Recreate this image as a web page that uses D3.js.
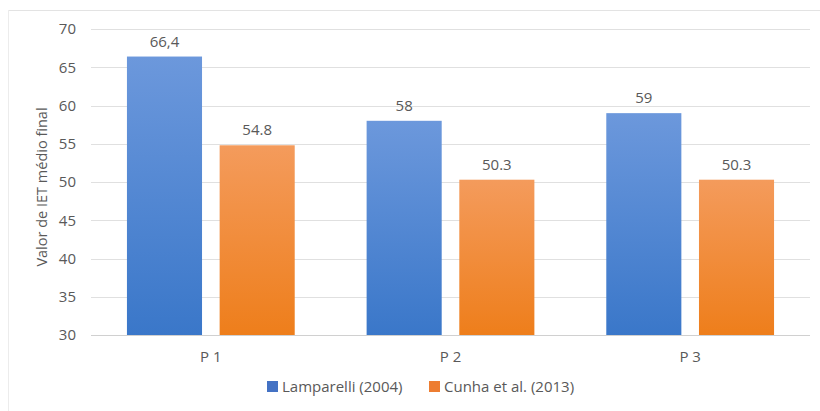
<!DOCTYPE html>
<html>
<head>
<meta charset="utf-8">
<script src="https://cdn.jsdelivr.net/npm/d3@7"></script>
<style>
  body { margin: 0; background: #fff; }
  text { font-family: "Open Sans", "Liberation Sans", sans-serif; fill: #595959; }
</style>
</head>
<body>
<script>
var w = 820;
var h = 411;

// chart data
var categories = ["P 1", "P 2", "P 3"];
var series = ["Lamparelli (2004)", "Cunha et al. (2013)"];
var lamparelli = [66.4, 58, 59];
var cunha = [54.8, 50.3, 50.3];
var lamparelliLabels = ["66,4", "58", "59"];
var cunhaLabels = ["54.8", "50.3", "50.3"];
var yTicks = [30, 35, 40, 45, 50, 55, 60, 65, 70];

var rows = categories.map(function(c, i) {
  return { cat: c, vals: [
    { key: series[0], v: lamparelli[i], label: lamparelliLabels[i] },
    { key: series[1], v: cunha[i], label: cunhaLabels[i] }
  ]};
});

var svg = d3.select("body").append("svg")
  .attr("width", w)
  .attr("height", h);

// gradients
var defs = svg.append("defs");
var gradColors = [["#6c98dc", "#3a77c9"], ["#f49b5c", "#ee7e1b"]];
gradColors.forEach(function(c, i) {
  var g = defs.append("linearGradient").attr("id", "grad" + i)
    .attr("x1", 0).attr("y1", 0).attr("x2", 0).attr("y2", 1);
  g.append("stop").attr("offset", "0%").attr("stop-color", c[0]);
  g.append("stop").attr("offset", "100%").attr("stop-color", c[1]);
});
var legendColors = ["#4472c4", "#ed7d31"];

// outer frame lines
svg.append("line").attr("x1", 8).attr("x2", w).attr("y1", 10.5).attr("y2", 10.5)
  .attr("stroke", "#e3e3e3");
svg.append("line").attr("x1", 8.5).attr("x2", 8.5).attr("y1", 10).attr("y2", h)
  .attr("stroke", "#ececec");

var plotLeft = 91, plotRight = 810, plotTop = 29, plotBottom = 335;

var x0 = d3.scaleBand().domain(categories).range([plotLeft, plotRight]).paddingInner(0.3).paddingOuter(0.15);
var x1 = d3.scaleBand().domain(series).range([0, x0.bandwidth()]).paddingInner(0.19);
var y = d3.scaleLinear().domain([30, 70]).range([plotBottom, plotTop]);

// gridlines
svg.append("g")
  .selectAll("line").data(yTicks).enter().append("line")
  .attr("x1", plotLeft).attr("x2", plotRight)
  .attr("y1", function(d) { return Math.round(y(d)) + 0.5; })
  .attr("y2", function(d) { return Math.round(y(d)) + 0.5; })
  .attr("stroke", function(d) { return d === 30 ? "#d0d0d0" : "#e0e0e0"; });

// y axis labels
var yAxis = svg.append("g")
  .attr("transform", "translate(" + (plotLeft - 15) + ",0)")
  .call(d3.axisLeft(y).tickValues(yTicks).tickSize(0).tickPadding(0));
yAxis.select(".domain").remove();
yAxis.selectAll("text").style("font-size", "15px").attr("fill", "#595959")
  .style("font-family", "'Open Sans', sans-serif");

// axis title
svg.append("text")
  .attr("transform", "translate(47," + ((plotTop + plotBottom) / 2 + 5) + ") rotate(-90)")
  .attr("text-anchor", "middle")
  .style("font-size", "14.5px")
  .text("Valor de IET médio final");

// bars
var groups = svg.append("g").selectAll("g").data(rows).enter().append("g")
  .attr("transform", function(d) { return "translate(" + x0(d.cat) + ",0)"; });

groups.selectAll("rect").data(function(d) { return d.vals; }).enter().append("rect")
  .attr("x", function(d) { return x1(d.key); })
  .attr("width", x1.bandwidth())
  .attr("y", function(d) { return y(d.v); })
  .attr("height", function(d) { return y(30) - y(d.v); })
  .attr("fill", function(d, i) { return "url(#grad" + i + ")"; });

groups.selectAll("text").data(function(d) { return d.vals; }).enter().append("text")
  .attr("x", function(d) { return x1(d.key) + x1.bandwidth() / 2; })
  .attr("y", function(d) { return y(d.v) - 10; })
  .attr("text-anchor", "middle")
  .style("font-size", "15px")
  .text(function(d) { return d.label; });

// x axis labels
var xAxis = svg.append("g")
  .attr("transform", "translate(0," + (plotBottom + 13) + ")")
  .call(d3.axisBottom(x0).tickSize(0).tickPadding(0));
xAxis.select(".domain").remove();
xAxis.selectAll("text").style("font-size", "15px").attr("fill", "#595959")
  .style("font-family", "'Open Sans', sans-serif").attr("dy", "0.9em");

// legend
var legend = svg.append("g").attr("transform", "translate(267,381)");
var legendX = [0, 162];
series.forEach(function(s, i) {
  var g = legend.append("g").attr("transform", "translate(" + legendX[i] + ",0)");
  g.append("rect").attr("width", 11).attr("height", 11).attr("y", 0).attr("fill", legendColors[i]);
  g.append("text").attr("x", 15).attr("y", 11).style("font-size", "15px").text(s);
});
</script>
</body>
</html>
